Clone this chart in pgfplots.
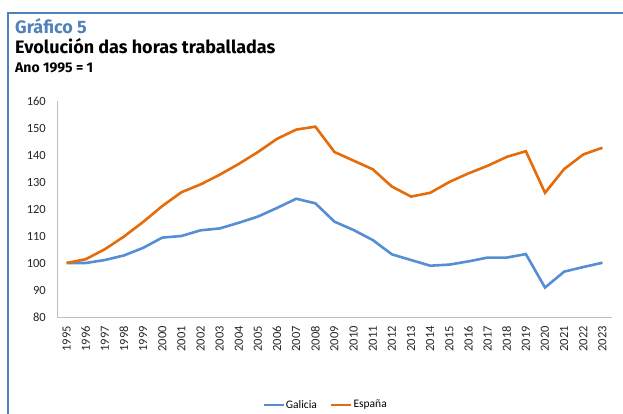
\documentclass[border=0pt]{standalone}
\usepackage{pgfplots}
\pgfplotsset{compat=1.18}
\usepackage{fontspec}
\setmainfont{Carlito}
\newfontfamily\titlefont{Fira Sans}
\definecolor{frameblue}{RGB}{79,129,189}
\definecolor{galicia}{RGB}{85,142,213}
\definecolor{espana}{RGB}{228,108,10}
\definecolor{axisgray}{RGB}{191,191,191}

\begin{document}
\begin{tikzpicture}[x=1pt,y=1pt]
\path[use as bounding box] (0,0) rectangle (623,414);
% marco
\draw[frameblue, line width=2pt] (7.5,0) -- (7.5,401) -- (623,401);
% titulos
\node[anchor=base west, inner sep=0pt, text=frameblue, font=\titlefont\bfseries\fontsize{18}{20}\selectfont] at (15,380) {Gráfico 5};
\node[anchor=base west, inner sep=0pt, font=\titlefont\bfseries\fontsize{18}{20}\selectfont] at (15,360.5) {Evolución das horas traballadas};
\node[anchor=base west, inner sep=0pt, font=\titlefont\bfseries\fontsize{14}{16}\selectfont] at (15,341) {Ano 1995 = 1};

\begin{axis}[
  at={(57pt,97pt)}, anchor=south west,
  scale only axis, width=555pt, height=216pt,
  xmin=1994.5, xmax=2023.5, ymin=80, ymax=160,
  axis x line*=bottom, axis y line*=left,
  axis line style={axisgray, line width=0.8pt, -},
  xtick={1995,...,2023}, ytick={80,90,...,160},
  major tick length=0pt,
  /pgf/number format/1000 sep={},
  /pgf/number format/assume math mode=true,
  tick label style={font=\fontsize{12.5}{14}\selectfont, text=black!85},
  xticklabel style={rotate=90, anchor=east, inner xsep=9pt, inner ysep=0pt},
  yticklabel style={anchor=east, inner xsep=11pt},
  legend columns=2,
  legend style={draw=none, at={(0.483,-0.407)}, anchor=center,
    font=\fontsize{11.5}{14}\selectfont,
    nodes={inner xsep=1pt},
    /tikz/every even column/.append style={column sep=12pt}},
  legend image code/.code={\draw[#1, line width=2.6pt] (0pt,0pt) -- (20pt,0pt);},
  clip=false,
]
\addplot[galicia, line width=2.6pt] coordinates {
  (1995,100) (1996,100) (1997,101.1) (1998,102.8) (1999,105.6)
  (2000,109.4) (2001,110) (2002,112.1) (2003,112.8) (2004,114.9)
  (2005,117.2) (2006,120.4) (2007,123.8) (2008,122.1) (2009,115.3)
  (2010,112.2) (2011,108.5) (2012,103.2) (2013,101.1) (2014,99)
  (2015,99.4) (2016,100.6) (2017,102) (2018,102) (2019,103.3)
  (2020,90.9) (2021,96.8) (2022,98.5) (2023,100.1)
};
\addlegendentry{Galicia}
\addplot[espana, line width=2.6pt] coordinates {
  (1995,100) (1996,101.4) (1997,105.1) (1998,109.8) (1999,115.2)
  (2000,121.1) (2001,126.2) (2002,129.1) (2003,132.7) (2004,136.7)
  (2005,141.1) (2006,146) (2007,149.4) (2008,150.5) (2009,141.1)
  (2010,137.9) (2011,134.7) (2012,128.3) (2013,124.6) (2014,126)
  (2015,130) (2016,133.2) (2017,136) (2018,139.3) (2019,141.4)
  (2020,126) (2021,134.8) (2022,140.2) (2023,142.7)
};
\addlegendentry{España}
\end{axis}
\end{tikzpicture}
\end{document}
